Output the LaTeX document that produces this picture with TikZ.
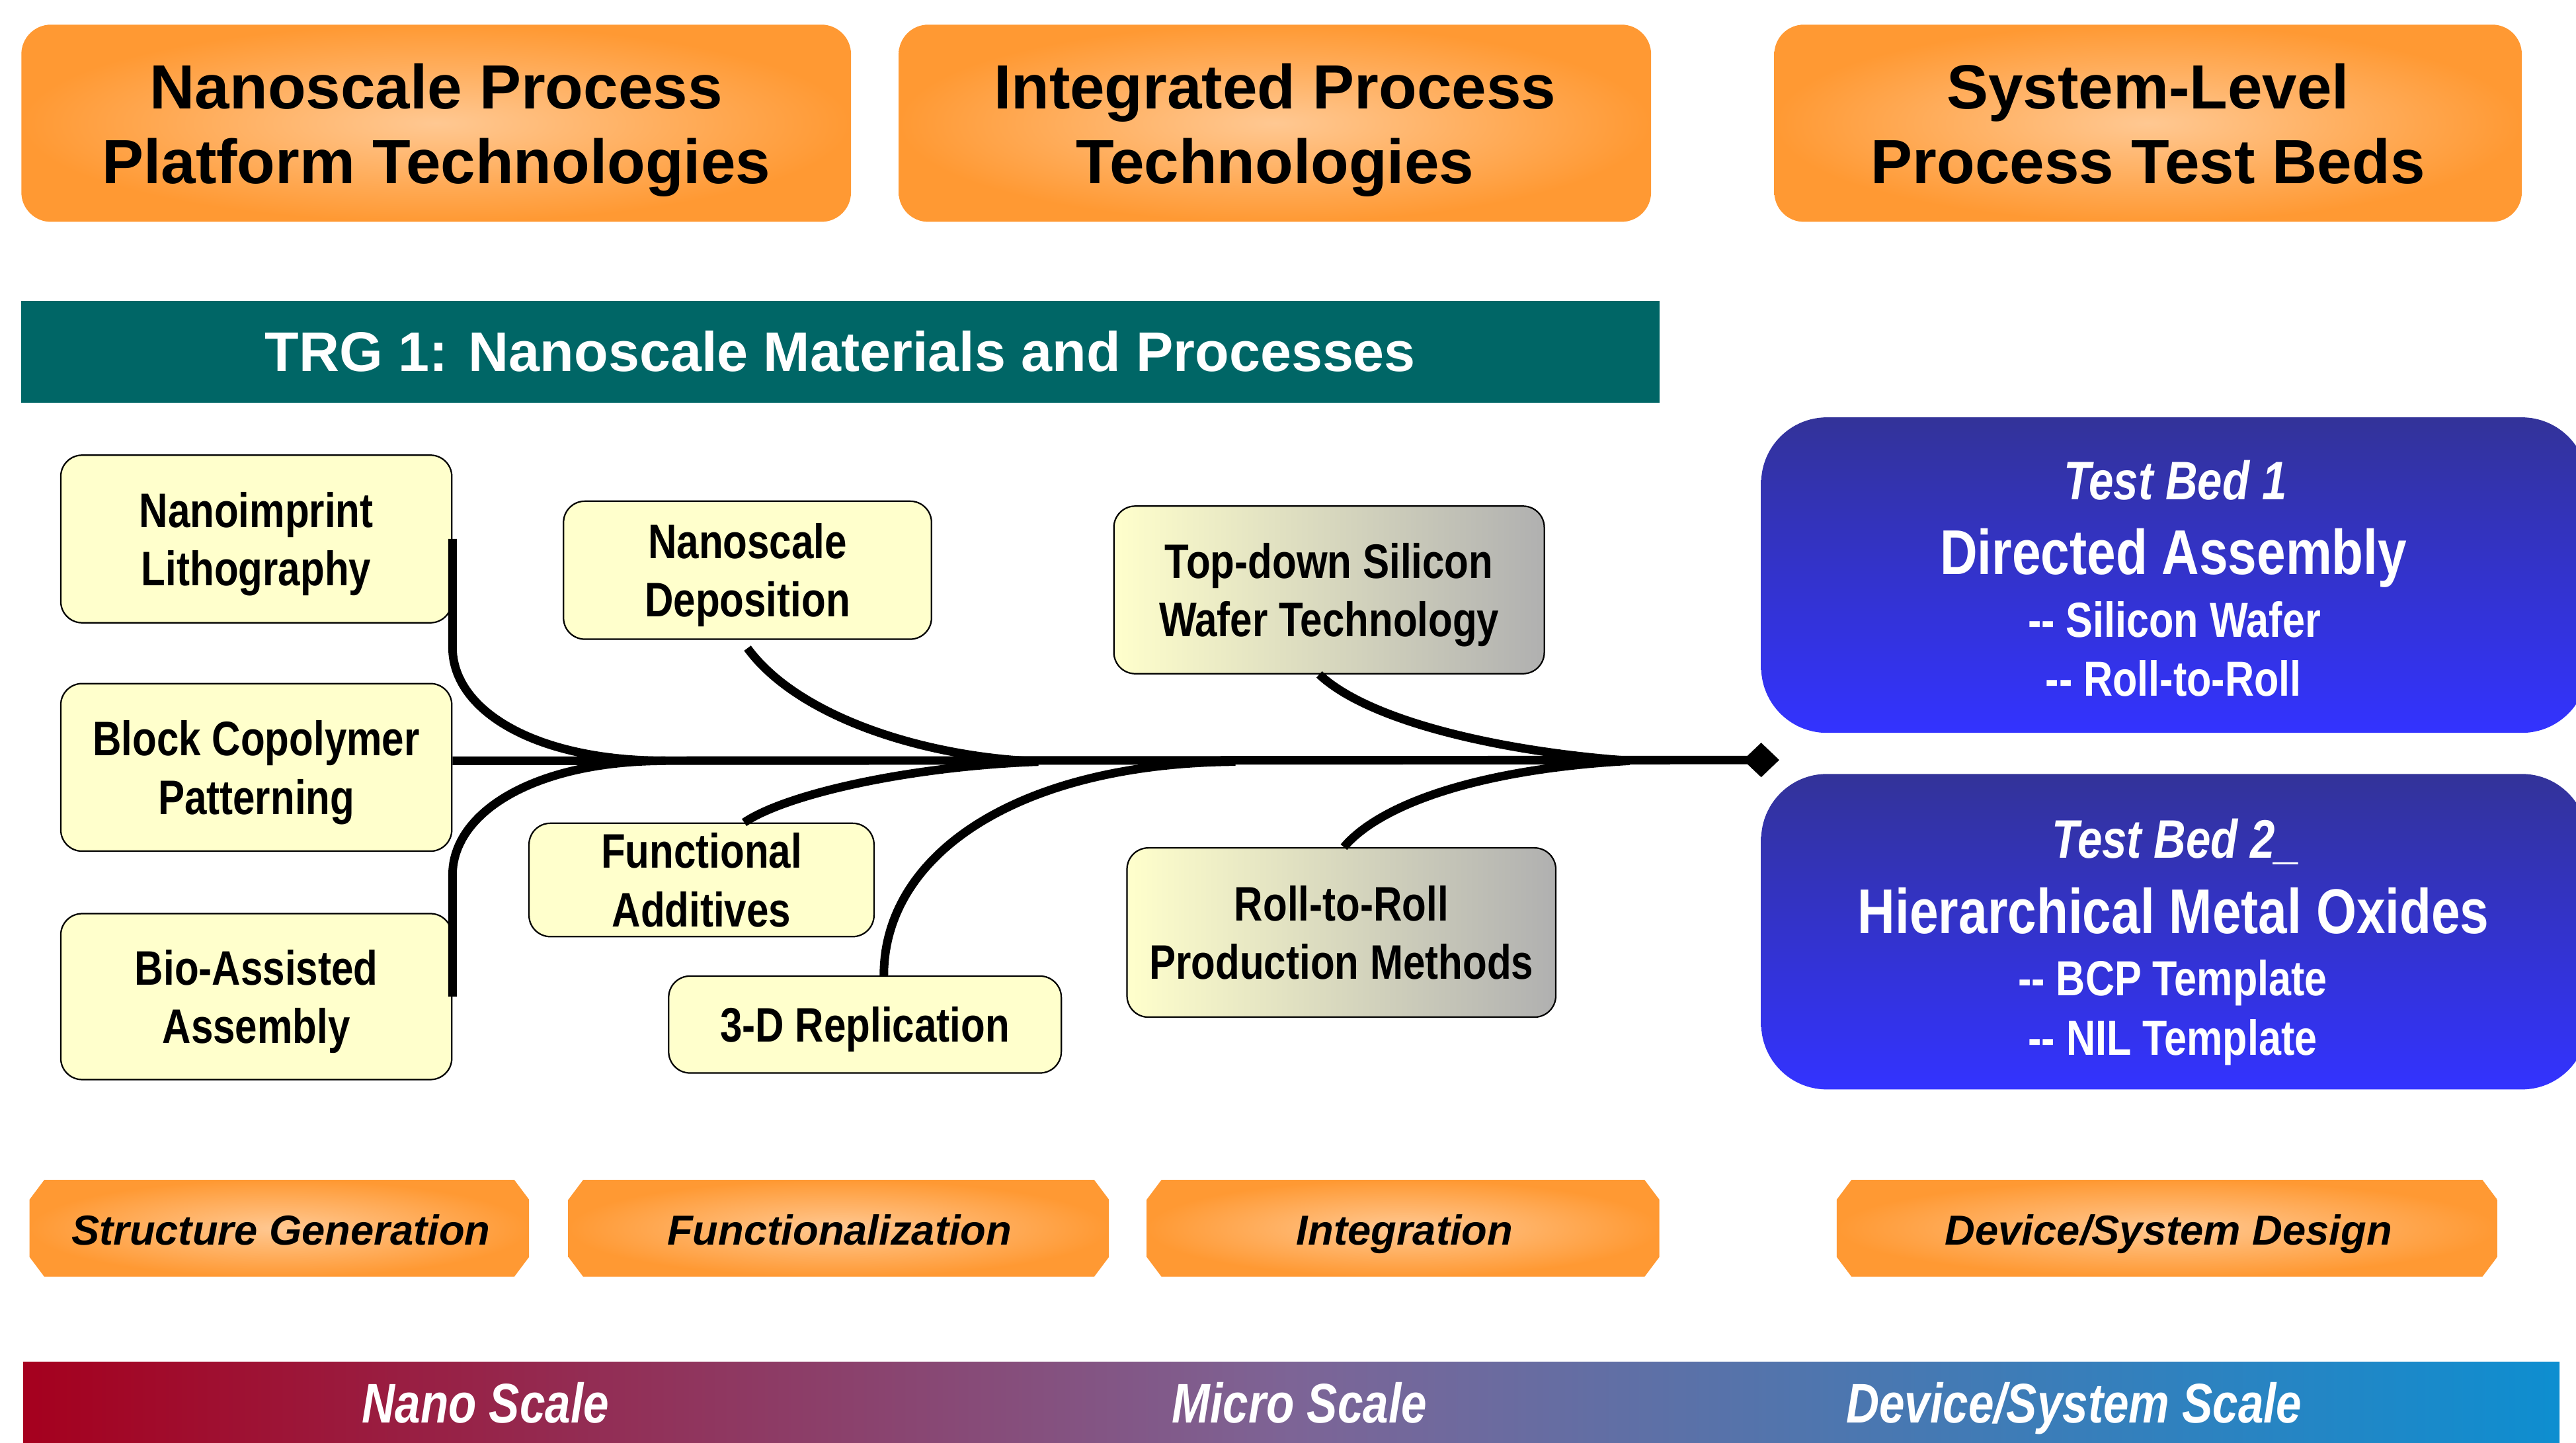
\documentclass[tikz,border=0pt]{standalone}
\usepackage{fontspec}
\setmainfont{Liberation Sans}
\newfontfamily\narrowfont[FakeStretch=0.82]{Liberation Sans}
\usetikzlibrary{arrows.meta}
\definecolor{orangeout}{HTML}{FF9933}
\definecolor{orangein}{HTML}{FFC892}
\definecolor{trgteal}{HTML}{006666}
\definecolor{paleyellow}{HTML}{FFFFCC}
\definecolor{grayend}{HTML}{B0B0B0}
\definecolor{tbtop}{HTML}{333399}
\definecolor{tbbottom}{HTML}{3333FF}
\definecolor{scaleA}{HTML}{A5001E}
\definecolor{scaleB}{HTML}{7D6496}
\definecolor{scaleC}{HTML}{0E8ED0}
\newcommand\nodepth[1]{\raisebox{0pt}[\height][0pt]{#1}}
\newcommand\chambox[4]{\path[stageshape] (#1+9,#3) -- (#2-9,#3) -- (#2,#3+12) -- (#2,#4-12) -- (#2-9,#4) -- (#1+9,#4) -- (#1,#4-12) -- (#1,#3+12) -- cycle;}
\tikzset{
  topbox/.style={rounded corners=18pt, inner color=orangein, outer color=orangeout,
    minimum height=120pt, inner sep=0pt, align=center,
    font=\bfseries\fontsize{38}{45.5}\selectfont},
  fishbox/.style={draw=black, line width=0.9pt, fill=paleyellow, rounded corners=13pt,
    inner sep=0pt, align=center, font=\narrowfont\bfseries\fontsize{29.5}{35.6}\selectfont},
  graybox/.style={fishbox, left color=paleyellow, right color=grayend},
  bone/.style={line width=5.2pt, draw=black},
  testbed/.style={rounded corners=40pt, top color=tbtop, bottom color=tbbottom,
    inner sep=0pt, minimum width=503pt, minimum height=192pt},
  tbtitle/.style={text=white, anchor=base, inner sep=0pt,
    font=\narrowfont\bfseries\itshape\fontsize{33}{40}\selectfont},
  tbmain/.style={text=white, anchor=base, inner sep=0pt,
    font=\narrowfont\bfseries\fontsize{38.5}{45}\selectfont},
  tbsub/.style={text=white, anchor=base, inner sep=0pt,
    font=\narrowfont\bfseries\fontsize{30}{36}\selectfont},
  stageshape/.style={inner color=orangein, outer color=orangeout},
  stagelabel/.style={anchor=base, inner sep=0pt,
    font=\bfseries\itshape\fontsize{25.5}{30}\selectfont},
  scalelabel/.style={anchor=base, inner sep=0pt, text=white,
    font=\narrowfont\bfseries\itshape\fontsize{34}{40}\selectfont},
}
\begin{document}
\begin{tikzpicture}[x=1pt,y=-1pt]
\useasboundingbox (0,0) rectangle (1568,878);
\clip (0,0) rectangle (1568,878);
\fill[white] (0,0) rectangle (1568,878);

% top headers
\node[topbox, minimum width=505pt] (topA) at (265.5,75) {Nanoscale Process\\\nodepth{Platform Technologies}};
\node[topbox, minimum width=458pt] (topB) at (776,75) {Integrated Process\\\nodepth{Technologies}};
\node[topbox, minimum width=455pt] (topC) at (1307.5,75) {System-Level\\\nodepth{Process Test Beds}};

% TRG banner
\node[fill=trgteal, minimum width=997pt, minimum height=62pt, inner sep=0pt, text=white,
  font=\bfseries\fontsize{34}{40}\selectfont] (trg) at (511.5,214) {TRG 1: Nanoscale Materials and Processes};

% fishbone boxes
\node[fishbox, minimum width=238pt, minimum height=102pt] (nil) at (156,328) {Nanoimprint\\\nodepth{Lithography}};
\node[fishbox, minimum width=238pt, minimum height=102pt] (bcp) at (156,467) {Block Copolymer\\\nodepth{Patterning}};
\node[fishbox, minimum width=238pt, minimum height=101pt] (bio) at (156,606.5) {Bio-Assisted\\\nodepth{Assembly}};
\node[fishbox, minimum width=224pt, minimum height=84pt] (dep) at (455,347) {Nanoscale\\\nodepth{Deposition}};
\node[fishbox, minimum width=210pt, minimum height=69pt] (fa) at (427,535.5) {Functional\\\nodepth{Additives}};
\node[fishbox, minimum width=239pt, minimum height=59pt] (rep) at (526.5,623.5) {\nodepth{3-D Replication}};
\node[graybox, minimum width=262pt, minimum height=102pt] (tds) at (809,359) {Top-down Silicon\\\nodepth{Wafer Technology}};
\node[graybox, minimum width=261pt, minimum height=103pt] (r2r) at (816.5,567.5) {Roll-to-Roll\\\nodepth{Production Methods}};

% spine joints
\coordinate (j1) at (405,463);
\coordinate (j2) at (632,463.5);
\coordinate (j3) at (752,463.5);
\coordinate (j4) at (992,463);
\coordinate (tip) at (1083,462.5);

% bones
\draw[bone, -{Diamond[length=22pt,width=21pt]}] (bcp.east |- j1) -- (tip);
\draw[bone] (nil.east) -- ++(0,66) .. controls +(0,38) and +(-80,0) .. (j1);
\draw[bone] (bio.east) -- ++(0,-74) .. controls +(0,-38) and +(-80,0) .. (j1);
\draw[bone] ([yshift=-5pt]dep.south) .. controls +(30,41) and +(-72,-3) .. (j2);
\draw[bone] ([xshift=26pt]fa.north) .. controls +(25,-17) and +(-80,3) .. (j2);
\draw[bone] ([xshift=11.5pt]rep.north) .. controls +(0,-74) and +(-132,1) .. (j3);
\draw[bone] ([xshift=-6pt]tds.south) .. controls +(32,30) and +(-72,-5) .. (j4);
\draw[bone] ([xshift=1.5pt]r2r.north) .. controls +(22,-26) and +(-92,5) .. (j4);

% test beds
\node[testbed] (tb1) at (1323.5,350) {};
\node[testbed] (tb2) at (1323.5,567) {};
\node[tbtitle] (tb1a) at (1324,304) {Test Bed 1};
\node[tbmain] (tb1b) at (1323,349.5) {Directed Assembly};
\node[tbsub] (tb1c) at (1323.5,387.6) {-{}- Silicon Wafer};
\node[tbsub] (tb1d) at (1323,423.4) {-{}- Roll-to-Roll};
\node[tbtitle] (tb2a) at (1324.5,522) {Test Bed 2\_};
\node[tbmain] (tb2b) at (1323,568) {Hierarchical Metal Oxides};
\node[tbsub] (tb2c) at (1322.5,605.8) {-{}- BCP Template};
\node[tbsub] (tb2d) at (1322.5,642) {-{}- NIL Template};

% stage boxes
\chambox{18}{322}{718}{777}
\chambox{346}{675}{718}{777}
\chambox{698}{1010}{718}{777}
\chambox{1118}{1520}{718}{777}
\node[stagelabel] (sg) at (171,757.5) {Structure Generation};
\node[stagelabel] (fn) at (511,757.5) {Functionalization};
\node[stagelabel] (ig) at (855,757.5) {Integration};
\node[stagelabel] (dsd) at (1320,757.5) {Device/System Design};

% scale bar
\path[left color=scaleA, right color=scaleC, middle color=scaleB] (14,829) rectangle (1558,890);
\node[scalelabel] (nano) at (295.5,866) {Nano Scale};
\node[scalelabel] (micro) at (791,866) {Micro Scale};
\node[scalelabel] (dss) at (1262.5,866) {Device/System Scale};
\end{tikzpicture}
\end{document}
